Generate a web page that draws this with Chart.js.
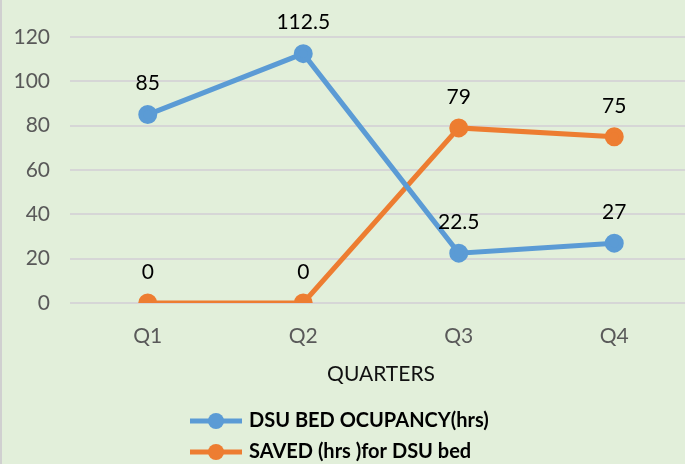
<!DOCTYPE html>
<html>
<head>
<meta charset="utf-8">
<script src="https://cdn.jsdelivr.net/npm/chart.js@4"></script>
<style>
  html, body { margin: 0; padding: 0; overflow: hidden; background: #e2efda; }
  #wrap { position: relative; width: 704px; height: 464px; border-left: 2px solid #d0d0d0; box-sizing: border-box; }
</style>
</head>
<body>
<div id="wrap"><canvas id="chart" width="702" height="464"></canvas></div>
<script>
// chart data
const quarters = ['Q1', 'Q2', 'Q3', 'Q4'];
const occupancy = [85, 112.5, 22.5, 27];
const saved = [0, 0, 79, 75];
const seriesNames = ['DSU BED OCUPANCY(hrs)', 'SAVED (hrs )for DSU bed'];
const yTicks = [0, 20, 40, 60, 80, 100, 120];

const FONT = 'Lato, "Open Sans", sans-serif';

// value labels above each point
const pointLabels = {
  id: 'pointLabels',
  afterDatasetsDraw(chart) {
    const ctx = chart.ctx;
    ctx.save();
    ctx.font = '21px ' + FONT;
    ctx.fillStyle = '#000';
    ctx.textAlign = 'center';
    ctx.textBaseline = 'middle';
    chart.data.datasets.forEach((ds, i) => {
      chart.getDatasetMeta(i).data.forEach((pt, j) => {
        ctx.fillText(String(ds.data[j]), pt.x, pt.y - 31);
      });
    });
    ctx.restore();
  }
};

// legend stacked vertically, line + marker
const stackedLegend = {
  id: 'stackedLegend',
  afterDraw(chart) {
    const ctx = chart.ctx;
    ctx.save();
    chart.data.datasets.forEach((ds, i) => {
      const y = 421 + i * 31;
      ctx.strokeStyle = ds.borderColor;
      ctx.lineWidth = 5;
      ctx.beginPath();
      ctx.moveTo(188, y);
      ctx.lineTo(240, y);
      ctx.stroke();
      ctx.fillStyle = ds.borderColor;
      ctx.beginPath();
      ctx.arc(214, y, 8, 0, Math.PI * 2);
      ctx.fill();
      ctx.font = 'bold 20px ' + FONT;
      ctx.fillStyle = '#000';
      ctx.textAlign = 'left';
      ctx.textBaseline = 'middle';
      ctx.fillText(ds.label, 247, y);
    });
    ctx.restore();
  }
};

const ctx = document.getElementById('chart').getContext('2d');
new Chart(ctx, {
  type: 'line',
  data: {
    labels: quarters,
    datasets: [
      {
        label: seriesNames[0],
        data: occupancy,
        borderColor: '#5b9bd5',
        backgroundColor: '#5b9bd5',
        borderWidth: 5,
        pointRadius: 7,
        pointHoverRadius: 7,
        tension: 0
      },
      {
        label: seriesNames[1],
        data: saved,
        borderColor: '#ed7d31',
        backgroundColor: '#ed7d31',
        borderWidth: 5,
        pointRadius: 7,
        pointHoverRadius: 7,
        tension: 0
      }
    ]
  },
  options: {
    responsive: false,
    animation: false,
    layout: { padding: { top: 37, right: 0, bottom: 77, left: 0 } },
    plugins: { legend: { display: false }, tooltip: { enabled: false } },
    scales: {
      x: {
        offset: true,
        grid: { display: false, drawTicks: false },
        border: { display: false },
        ticks: { color: '#595959', font: { family: FONT, size: 21 }, padding: 21 },
        title: { display: true, text: 'QUARTERS', color: '#111', font: { family: FONT, size: 21 }, padding: 0 },
        afterFit: s => { s.height = 84; }
      },
      y: {
        min: 0,
        max: 120,
        afterBuildTicks: s => { s.ticks = yTicks.map(v => ({ value: v })); },
        grid: { color: '#d6d6d6', lineWidth: 2, drawTicks: false },
        border: { display: false },
        ticks: { color: '#595959', font: { family: FONT, size: 21 }, padding: 20 },
        afterFit: s => { s.width = 68; }
      }
    }
  },
  plugins: [pointLabels, stackedLegend]
});
</script>
</body>
</html>
